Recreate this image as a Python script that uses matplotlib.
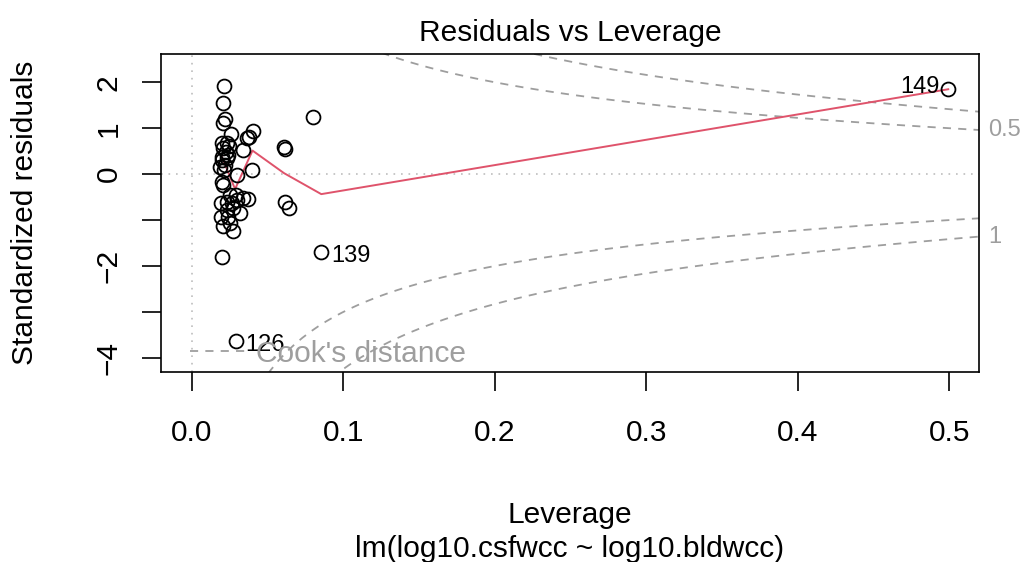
"""Residuals vs Leverage diagnostic plot (R plot.lm style), redrawn in matplotlib."""

import numpy as np
import matplotlib
matplotlib.use("Agg")
import matplotlib.pyplot as plt

# leverage (hat values) and standardized residuals
leverage = [0.0215, 0.0209, 0.0220, 0.0209, 0.0259, 0.0407, 0.0380, 0.0363,
            0.0799, 0.0609, 0.0614, 0.0341, 0.0198, 0.0231, 0.0209, 0.0246,
            0.0198, 0.0231, 0.0242, 0.0187, 0.0220, 0.0396, 0.0301, 0.0198,
            0.0209, 0.0253, 0.0191, 0.0231, 0.0264, 0.0297, 0.0341, 0.0374,
            0.0275, 0.0319, 0.0191, 0.0242, 0.0205, 0.0253, 0.0271, 0.0198,
            0.0616, 0.0644, 0.0855, 0.0292, 0.4994, 0.0226, 0.0200, 0.0213,
            0.0292, 0.0233]
std_resid = [1.926, 1.543, 1.202, 1.122, 0.870, 0.948, 0.817, 0.783,
             1.239, 0.587, 0.550, 0.528, 0.674, 0.674, 0.565, 0.615,
             0.383, 0.348, 0.420, 0.165, 0.202, 0.093, -0.015, -0.161,
             -0.233, -0.450, -0.630, -0.596, -0.630, -0.559, -0.522, -0.544,
             -0.739, -0.835, -0.922, -0.922, -1.139, -1.065, -1.248, -1.813,
             -0.596, -0.739, -1.696, -3.624, 1.848, 0.483, 0.311, 0.093,
             -0.450, -0.776]

# labelled observations
label_ids = ["149", "139", "126"]
label_x = [0.4994, 0.0855, 0.0292]
label_y = [1.848, -1.696, -3.624]

# red smoother vertices
smooth_x = [0.0198, 0.0286, 0.0401, 0.0609, 0.0855, 0.4994]
smooth_y = [0.383, -0.326, 0.513, 0.022, -0.435, 1.848]

# Cook's distance contour levels, number of model parameters
cook_levels = [0.5, 1]
n_params = 2

x_ticks = [0.0, 0.1, 0.2, 0.3, 0.4, 0.5]
x_labels = ["0.0", "0.1", "0.2", "0.3", "0.4", "0.5"]
y_ticks = [-4, -3, -2, -1, 0, 1, 2]
y_labels = ["\u22124", "", "\u22122", "", "0", "1", "2"]

xlim = (-0.0203, 0.5197)
ylim = (-4.30, 2.615)

RED = "#DF536B"
COOK = "#9E9E9E"
REF = "#BEBEBE"

plt.rcParams["font.family"] = ["Liberation Sans", "DejaVu Sans"]
FS = 21.5
FS_ID = 17

fig = plt.figure(figsize=(10.23, 5.62), dpi=100)
ax = fig.add_axes([161 / 1023, 1 - 371.7 / 562, 818 / 1023, 317.7 / 562])

ax.axhline(0, color=REF, lw=1.2, ls=(0, (1, 3.5)), zorder=1)
ax.axvline(0, color=REF, lw=1.2, ls=(0, (1, 3.5)), zorder=1)

# Cook's distance contours
hh = np.linspace(0.0002, xlim[1], 101)
for i, lev in enumerate(cook_levels):
    r = np.sqrt(lev * n_params * (1 - hh) / hh)
    ax.plot(hh, r, color=COOK, lw=1.3, ls=(0, (4.5, 4)), zorder=1,
            label="Cook's distance" if i == 0 else None)
    ax.plot(hh, -r, color=COOK, lw=1.3, ls=(0, (4.5, 4)), zorder=1)

ax.plot(leverage, std_resid, "o", ms=10, mfc="none", mec="black", mew=1.3, zorder=3)
ax.plot(smooth_x, smooth_y, color=RED, lw=1.4, zorder=2)

for lab, lx, ly in zip(label_ids, label_x, label_y):
    if lx > np.mean(xlim):
        ax.annotate(lab, (lx, ly), xytext=(-6, 1.5), textcoords="offset points",
                    ha="right", va="center", fontsize=FS_ID)
    else:
        ax.annotate(lab, (lx, ly), xytext=(7, -3), textcoords="offset points",
                    ha="left", va="center", fontsize=FS_ID)

# right-margin contour labels
r_edge_pos = np.sqrt(cook_levels[0] * n_params * (1 - xlim[1]) / xlim[1])
r_edge_neg = -np.sqrt(cook_levels[1] * n_params * (1 - xlim[1]) / xlim[1])
ax.annotate("0.5", (1, r_edge_pos), xycoords=("axes fraction", "data"),
            xytext=(6.5, 0), textcoords="offset points", ha="left", va="center",
            fontsize=FS_ID, color=COOK, annotation_clip=False)
ax.annotate("1", (1, r_edge_neg), xycoords=("axes fraction", "data"),
            xytext=(6.5, 0), textcoords="offset points", ha="left", va="center",
            fontsize=FS_ID, color=COOK, annotation_clip=False)

ax.legend(loc="lower left", bbox_to_anchor=(29 / 818, 0.012), frameon=False,
          borderpad=0, borderaxespad=0, handlelength=2.0, handletextpad=0.22,
          fontsize=FS, labelcolor=COOK)

ax.set_xlim(*xlim)
ax.set_ylim(*ylim)
ax.set_xticks(x_ticks)
ax.set_xticklabels(x_labels, fontsize=FS)
ax.set_yticks(y_ticks)
ax.set_yticklabels(y_labels, fontsize=FS, rotation=90, va="center")
ax.tick_params(axis="both", length=13.7, width=1.2, direction="out")
ax.tick_params(axis="x", pad=20)
ax.tick_params(axis="y", pad=14)
for s in ax.spines.values():
    s.set_linewidth(1.2)

fig.text((161 + 979) / 2 / 1023, 1 - 41.4 / 562, "Residuals vs Leverage",
         ha="center", va="baseline", fontsize=FS)
fig.text((161 + 979) / 2 / 1023, 1 - 523 / 562, "Leverage",
         ha="center", va="baseline", fontsize=FS)
fig.text((161 + 979) / 2 / 1023, 1 - 557 / 562, "lm(log10.csfwcc ~ log10.bldwcc)",
         ha="center", va="baseline", fontsize=FS)
fig.text(24.6 / 1023, 1 - (54 + 371.7) / 2 / 562,
         "Standardized residuals", rotation=90, ha="center", va="center", fontsize=FS)

fig.savefig("out.png", dpi=100)
